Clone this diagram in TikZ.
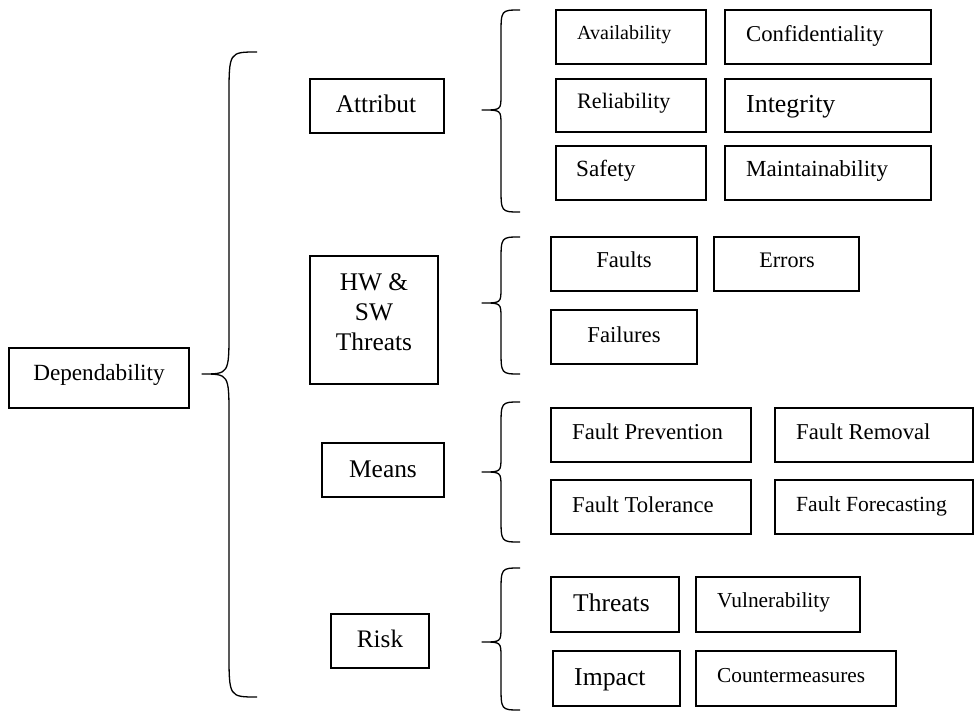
\documentclass[tikz,border=0pt]{standalone}
\usepackage{fontspec}
\setmainfont{Liberation Serif}
\tikzset{
  box/.style={draw, line width=1.3pt, rectangle, inner sep=0pt},
  brc/.style={line width=1.3pt, line join=round},
  txt/.style={inner sep=0pt}
}
% box: name, x1, y1, x2, y2
\newcommand\bx[5]{\node[box, minimum width={#4-#2}, minimum height={#5-#3}] (#1) at ({(#2+#4)/2},{(#3+#5)/2}) {};}
% text: name, anchor, position, size, text
\newcommand\tx[5]{\node[txt, anchor=#2, font=\fontsize{#4}{32}\selectfont] (#1) at (#3) {#5};}
% brace: xend, xline, xtip, ytop, ymid, ybot, rend, rmid
\newcommand\brc[8]{\draw[brc] (#1,#4) .. controls (#2,#4) .. ({#2},{#4+#7}) -- ({#2},{#5-#8}) .. controls (#2,#5) .. (#3,#5) .. controls (#2,#5) .. ({#2},{#5+#8}) -- ({#2},{#6-#7}) .. controls (#2,#6) .. (#1,#6);}
\begin{document}
\begin{tikzpicture}[x=1pt,y=-1pt]
\useasboundingbox (0,0) rectangle (974,711);
% braces
\brc{257}{229}{202}{52}{374}{697}{45}{43}
\brc{520}{501}{482}{10}{110}{212}{25}{15}
\brc{520}{501}{482}{237}{303}{374}{25}{15}
\brc{520}{501}{482}{402}{472}{542}{25}{15}
\brc{520}{501}{482}{568}{642}{710}{25}{15}
% boxes
\bx{dep}{9}{348}{189}{408}
\bx{attr}{310}{79}{444}{133}
\bx{hw}{310}{256}{438}{384}
\bx{means}{322}{443}{444}{497}
\bx{risk}{331}{614}{429}{668}
\bx{avail}{556}{10}{706}{64}
\bx{conf}{725}{10}{931}{64}
\bx{rel}{556}{79}{706}{132}
\bx{integ}{725}{79}{931}{132}
\bx{safety}{556}{146}{706}{200}
\bx{maint}{725}{146}{931}{200}
\bx{faults}{551}{237}{697}{291}
\bx{errors}{714}{237}{859}{291}
\bx{failures}{551}{310}{697}{364}
\bx{fprev}{551}{408}{751}{462}
\bx{frem}{775}{408}{973}{462}
\bx{ftol}{551}{480}{751}{534}
\bx{ffore}{775}{480}{973}{534}
\bx{threats}{551}{577}{679}{632}
\bx{vuln}{696}{577}{860}{632}
\bx{impact}{553}{651}{680}{706}
\bx{counter}{696}{651}{896}{706}
% texts
\tx{t-dep}{base}{99,380}{23.2}{Dependability}
\tx{t-attr}{base}{376,113}{25.4}{Attribut}
\node[txt, anchor=north, align=center, font=\fontsize{25.4}{30}\selectfont] (t-hw) at (374,273) {HW \&\\SW\\Threats};
\tx{t-means}{base}{383,477}{25.4}{Means}
\tx{t-risk}{base}{380,647}{25.2}{Risk}
\tx{t-avail}{base west}{577,40}{20}{Availability}
\tx{t-conf}{base west}{746,41.5}{22.7}{Confidentiality}
\tx{t-rel}{base west}{577,109}{22.1}{Reliability}
\tx{t-integ}{base west}{746,113}{25.9}{Integrity}
\tx{t-safety}{base west}{576,177}{23.2}{Safety}
\tx{t-maint}{base west}{746,177}{23}{Maintainability}
\tx{t-faults}{base}{624,268}{22.7}{Faults}
\tx{t-errors}{base}{787,268}{22.2}{Errors}
\tx{t-failures}{base}{624,342}{22.7}{Failures}
\tx{t-fprev}{base west}{572,439}{22.7}{Fault Prevention}
\tx{t-frem}{base west}{796,439}{22.7}{Fault Removal}
\tx{t-ftol}{base west}{572,512}{22.7}{Fault Tolerance}
\tx{t-ffore}{base west}{796,511}{21.6}{Fault Forecasting}
\tx{t-threats}{base west}{573,611}{25.5}{Threats}
\tx{t-vuln}{base west}{717,607}{21.4}{Vulnerability}
\tx{t-impact}{base west}{574,685}{25.7}{Impact}
\tx{t-counter}{base west}{717,682}{21.3}{Countermeasures}
\end{tikzpicture}
\end{document}
